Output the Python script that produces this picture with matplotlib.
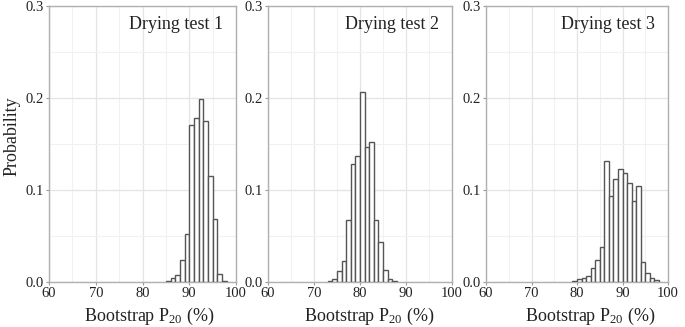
import numpy as np
import matplotlib.pyplot as plt
from matplotlib.ticker import MultipleLocator, FormatStrFormatter

plt.rcParams['font.family'] = ['Liberation Serif', 'DejaVu Serif']
plt.rcParams['mathtext.fontset'] = 'custom'
plt.rcParams['mathtext.rm'] = 'Liberation Serif'
plt.rcParams['mathtext.it'] = 'Liberation Serif:italic'

# Bootstrap P20 histograms, 1 % bins (left edge of first bin + probabilities)
test1_start = 85
test1_prob = [0.001, 0.004, 0.008, 0.024, 0.052, 0.171, 0.178, 0.199,
              0.175, 0.115, 0.068, 0.009, 0.001]

test2_start = 73
test2_prob = [0.001, 0.003, 0.012, 0.023, 0.067, 0.128, 0.137, 0.207,
              0.147, 0.152, 0.067, 0.043, 0.013, 0.003, 0.001]

test3_start = 79
test3_prob = [0.001, 0.003, 0.004, 0.007, 0.015, 0.024, 0.038, 0.131,
              0.094, 0.112, 0.123, 0.118, 0.108, 0.088, 0.104, 0.022,
              0.010, 0.004, 0.002]

titles = ["Drying test 1", "Drying test 2", "Drying test 3"]
starts = [test1_start, test2_start, test3_start]
probs = [test1_prob, test2_prob, test3_prob]

W, H = 685, 327
fig = plt.figure(figsize=(W / 100, H / 100), dpi=100)

# axes boxes in pixels: left, right
boxes = [(49, 236), (268, 452), (486, 668)]
top, bottom = 6, 282
label_x = [0.535, 0.55, 0.575]

for i in range(3):
    l, r = boxes[i]
    ax = fig.add_axes([l / W, 1 - bottom / H, (r - l) / W, (bottom - top) / H])

    edges = starts[i] + np.arange(len(probs[i]))
    ax.bar(edges, probs[i], width=1, align='edge', facecolor='white',
           edgecolor='#555555', linewidth=1.0, zorder=3)

    ax.set_xlim(60, 100)
    ax.set_ylim(0, 0.3)
    ax.xaxis.set_major_locator(MultipleLocator(10))
    ax.xaxis.set_minor_locator(MultipleLocator(5))
    ax.yaxis.set_major_locator(MultipleLocator(0.1))
    ax.yaxis.set_minor_locator(MultipleLocator(0.05))
    ax.yaxis.set_major_formatter(FormatStrFormatter('%.1f'))

    ax.grid(which='major', color='#e4e4e4', linewidth=0.9, zorder=0)
    ax.grid(which='minor', color='#f1f1f1', linewidth=0.8, zorder=0)
    ax.set_axisbelow(True)

    for s in ax.spines.values():
        s.set_color('#b0b0b0')
        s.set_linewidth(1.0)

    ax.tick_params(which='major', length=2.5, width=0.8, color='#999999',
                   labelsize=10.5, pad=1, labelcolor='#222222')
    ax.tick_params(which='minor', length=0)

    ax.text(0.93, 0.965, titles[i], transform=ax.transAxes, ha='right',
            va='top', fontsize=13, color='#222222')
    ax.set_xlabel(r'Bootstrap P$_{20}$ (%)', fontsize=13, labelpad=4.5,
                  color='#222222')
    ax.xaxis.label.set_x(label_x[i])
    if i == 0:
        ax.set_ylabel('Probability', fontsize=13, labelpad=4, color='#222222')
        ax.yaxis.label.set_y(0.53)

plt.savefig('out.png', dpi=100)
